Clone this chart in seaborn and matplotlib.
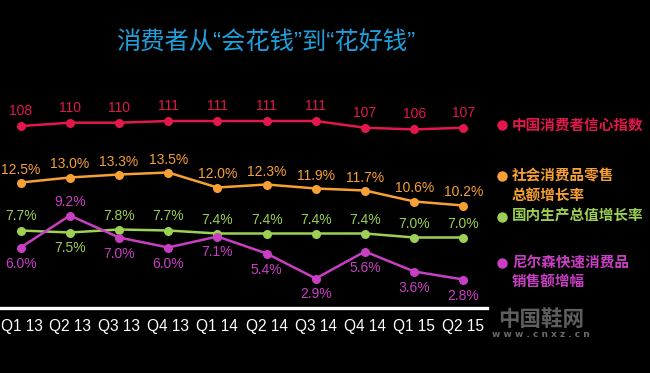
import matplotlib
matplotlib.use("Agg")
import matplotlib.pyplot as plt
import seaborn as sns
import pandas as pd
from matplotlib.lines import Line2D
from matplotlib.transforms import ScaledTranslation

quarters = ["Q1 13", "Q2 13", "Q3 13", "Q4 13", "Q1 14", "Q2 14", "Q3 14", "Q4 14", "Q1 15", "Q2 15"]
cci = [108, 110, 110, 111, 111, 111, 111, 107, 106, 107]
retail = [12.5, 13.0, 13.3, 13.5, 12.0, 12.3, 11.9, 11.7, 10.6, 10.2]
gdp = [7.7, 7.5, 7.8, 7.7, 7.4, 7.4, 7.4, 7.4, 7.0, 7.0]
fmcg = [6.0, 9.2, 7.0, 6.0, 7.1, 5.4, 2.9, 5.6, 3.6, 2.8]

legend_names = ["中国消费者信心指数", "社会消费品零售\n总额增长率", "国内生产总值增长率", "尼尔森快速消费品\n销售额增幅"]
title = "消费者从“会花钱”到“花好钱”"

sns.set_theme(style="white")
plt.rcParams["font.family"] = ["Liberation Sans", "Noto Sans CJK SC", "DejaVu Sans"]

RED = "#e2184c"
ORANGE = "#f7a035"
GREEN = "#9dd053"
PURPLE = "#c93fc4"
BG = "#000000"

W, H = 650, 373
fig = plt.figure(figsize=(W / 100, H / 100), dpi=100, facecolor=BG)

left_px, right_px = 0, 487
base_px, top_px = 307.5, 90
ax = fig.add_axes([left_px / W, (H - base_px) / H, (right_px - left_px) / W, (base_px - top_px) / H])
ax.set_facecolor(BG)
step = 49.18
x0 = 20.7
xmin = -(x0 - left_px) / step
xmax = xmin + (right_px - left_px) / step
ax.set_xlim(xmin, xmax)
ymax = (base_px - top_px) * 0.1
ax.set_ylim(0, ymax)

ax2 = ax.twinx()
ax2.set_ylim(0, (base_px - top_px) / 1.68)
ax2.set_xlim(xmin, xmax)

df = pd.DataFrame({"q": range(len(quarters)), "cci": cci, "retail": retail, "gdp": gdp, "fmcg": fmcg})

kw = dict(marker="o", markersize=6.5, markeredgewidth=0, linewidth=1.8)
sns.lineplot(data=df, x="q", y="retail", ax=ax, color=ORANGE, **kw)
sns.lineplot(data=df, x="q", y="gdp", ax=ax, color=GREEN, **kw)
sns.lineplot(data=df, x="q", y="fmcg", ax=ax, color=PURPLE, **kw)
sns.lineplot(data=df, x="q", y="cci", ax=ax2, color=RED, **kw)

px2pt = 0.72
lab_fs = 10


def label(axis, xs, ys, texts, color, offsets_px):
    for x, y, t, o in zip(xs, ys, texts, offsets_px):
        axis.annotate(t, (x, y), xytext=(0, o * px2pt), textcoords="offset points",
                      ha="center", va="center", fontsize=lab_fs, color=color,
                      family=["Liberation Sans"])


n = len(quarters)
label(ax2, range(n), cci, [str(v) for v in cci], RED, [15] * n)
label(ax, range(n), retail, [f"{v:.1f}%" for v in retail], ORANGE, [13] * n)
label(ax, range(n), gdp, [f"{v:.1f}%" for v in gdp], GREEN,
      [-16 if i == 1 else 14 for i in range(n)])
label(ax, range(n), fmcg, [f"{v:.1f}%" for v in fmcg], PURPLE,
      [13 if i == 1 else -16 for i in range(n)])

for a in (ax, ax2):
    for s in ("top", "left", "right"):
        a.spines[s].set_visible(False)
    a.set_ylabel("")
    a.set_xlabel("")
    a.set_yticks([])
    a.grid(False)
ax2.spines["bottom"].set_visible(False)
ax.spines["bottom"].set_color("white")
ax.spines["bottom"].set_linewidth(2.4)
ax.set_xticks(range(n))
ax.set_xticklabels(quarters, color="white", fontsize=11.2, family=["Liberation Sans"])
ax.tick_params(axis="x", length=0, pad=8.5)
ax2.tick_params(axis="x", length=0, labelbottom=False)
first = ax.get_xticklabels()[0]
first.set_transform(first.get_transform() + ScaledTranslation(1.5 / 100, 0, fig.dpi_scale_trans))

leg_y = [125, 176, 216.5, 262.5]
leg_colors = [RED, ORANGE, GREEN, PURPLE]
for name, y, c in zip(legend_names, leg_y, leg_colors):
    fig.add_artist(Line2D([501.5 / W], [(H - y) / H], marker="o", markersize=7.5,
                          color=c, markeredgewidth=0, linestyle="none", transform=fig.transFigure))
    fig.text(512 / W, (H - y + 8.5) / H, name, color=c, fontsize=10.5, fontweight="bold",
             ha="left", va="top", linespacing=1.25, family=["Noto Sans CJK SC", "DejaVu Sans"])

fig.text(266 / W, (H - 43) / H, title, color="#1fa0da", fontsize=17.5, ha="center", va="center",
         family=["Liberation Sans", "Noto Sans CJK SC", "DejaVu Sans"], fontweight="medium")

fig.text(541 / W, (H - 320) / H, "中国鞋网", color="#5e5e5e", fontsize=15.5, ha="center", va="center",
         family=["Noto Sans CJK SC", "DejaVu Sans"], fontweight="bold")
fig.text(541 / W, (H - 334.5) / H, "w w w . c n x z . c n", color="#6a6a6a", fontsize=6.5, ha="center",
         va="center", fontweight="bold", family=["DejaVu Sans"])

fig.savefig("out.png", dpi=100, facecolor=BG)
